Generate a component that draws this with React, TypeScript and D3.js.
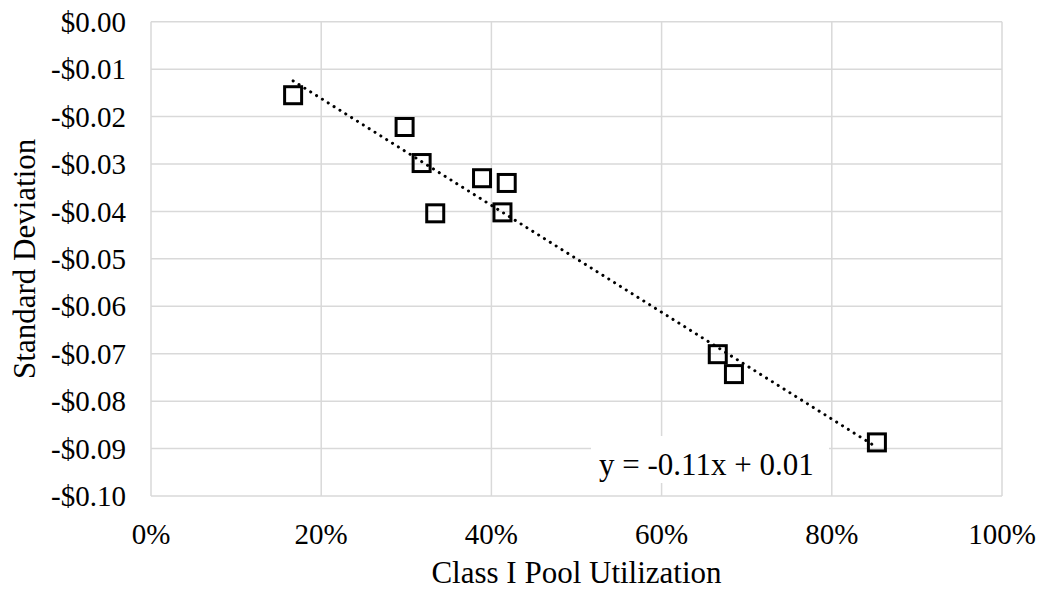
import React from 'react';
import * as d3 from 'd3';

// utilization (fraction) vs standard deviation ($)
const utilization = [0.167, 0.298, 0.318, 0.389, 0.418, 0.334, 0.413, 0.666, 0.685, 0.853];
const stdDev = [-0.0155, -0.0222, -0.0298, -0.0330, -0.0340, -0.0404, -0.0402, -0.0701, -0.0743, -0.0887];
const xTicks = [0, 0.2, 0.4, 0.6, 0.8, 1.0];
const yTicks = [0, -0.01, -0.02, -0.03, -0.04, -0.05, -0.06, -0.07, -0.08, -0.09, -0.1];
const equationLabel = 'y = -0.11x + 0.01';

const W = 1045;
const H = 598;
const margin = { top: 21.7, right: 43, bottom: 102, left: 151 };
const font = "'Liberation Serif', 'Times New Roman', Times, serif";

export default function App() {
  const x = d3.scaleLinear().domain([0, 1]).range([margin.left, W - margin.right]);
  const y = d3.scaleLinear().domain([-0.1, 0]).range([H - margin.bottom, margin.top]);

  // least squares trendline
  const mx = d3.mean(utilization)!;
  const my = d3.mean(stdDev)!;
  const sxy = d3.sum(utilization, (v, i) => (v - mx) * (stdDev[i] - my));
  const sxx = d3.sum(utilization, v => (v - mx) ** 2);
  const slope = sxy / sxx;
  const icpt = my - slope * mx;
  const [x0, x1] = d3.extent(utilization) as [number, number];
  const trend = d3.line<number>().x(d => x(d)).y(d => y(slope * d + icpt));

  const fmtY = (v: number) => (v < -1e-9 ? '-' : '') + '$' + Math.abs(v).toFixed(2);
  const fmtX = d3.format('.0%');

  const side = 17;
  const tick = { fontFamily: font, fontSize: '29px' };
  const big = { fontFamily: font, fontSize: '31px' };

  return (
    <svg width={W} height={H} style={{ position: 'absolute', left: 0, top: 0, background: '#fff' }}>
      <rect width={W} height={H} fill="#fff" />
      <g stroke="#d9d9d9" strokeWidth={1.5}>
        {yTicks.map(t => (
          <line key={'y' + t} x1={x(0)} x2={x(1)} y1={y(t)} y2={y(t)} />
        ))}
        {xTicks.map(t => (
          <line key={'x' + t} x1={x(t)} x2={x(t)} y1={y(0)} y2={y(-0.1)} />
        ))}
      </g>

      {/* equation label box */}
      <rect x={591} y={436} width={238} height={47} fill="#fff" />
      <text x={599} y={475} style={big} fill="#000">{equationLabel}</text>

      <path
        d={trend([x0, x1]) || ''}
        fill="none"
        stroke="#000"
        strokeWidth={3}
        strokeLinecap="round"
        strokeDasharray="0.1 6.8"
      />

      {utilization.map((u, i) => (
        <rect
          key={i}
          x={x(u) - side / 2}
          y={y(stdDev[i]) - side / 2}
          width={side}
          height={side}
          fill="none"
          stroke="#000"
          strokeWidth={3}
        />
      ))}

      <g style={tick} fill="#000">
        {yTicks.map(t => (
          <text key={'yl' + t} x={126} y={y(t)} dy="0.35em" textAnchor="end">{fmtY(t)}</text>
        ))}
        {xTicks.map(t => (
          <text key={'xl' + t} x={x(t)} y={544} textAnchor="middle">{fmtX(t)}</text>
        ))}
      </g>
      <g style={big} fill="#000">
        <text x={(x(0) + x(1)) / 2} y={583} textAnchor="middle">Class I Pool Utilization</text>
        <text transform={`translate(35,${(y(0) + y(-0.1)) / 2}) rotate(-90)`} textAnchor="middle">Standard Deviation</text>
      </g>
    </svg>
  );
}
